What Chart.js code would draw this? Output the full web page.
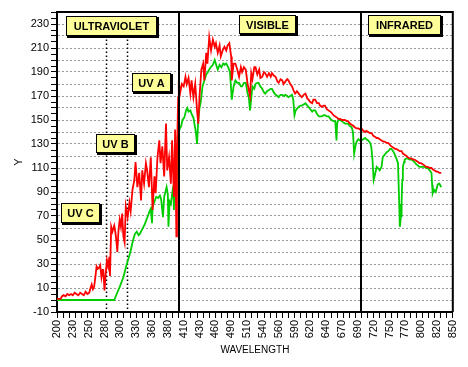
<!DOCTYPE html>
<html>
<head>
<meta charset="utf-8">
<script src="https://cdn.jsdelivr.net/npm/chart.js@4/dist/chart.umd.min.js"></script>
<style>
  html, body { margin: 0; padding: 0; background: #fff; }
  #wrap { width: 468px; height: 367px; }
</style>
</head>
<body>
<div id="wrap"><canvas id="c" width="468" height="367"></canvas></div>
<script>
// ---- data ----
const redNm = [200,203,206,208,211,214,217,220,223,226,229,232,235,238,241,244,247,250,253,255,257,259,261,263,265,267,269,271,273,275,276,278,280,282,284,286,287,289,291,294,296,298,299,301,303,305,307,309,311,313,316,319,321,324,327,329,332,335,338,340,343,346,348,351,354,357,360,362,365,368,370,373,376,379,381,384,387,389,392,394,396,397,399,400,402,405,408,411,413,416,419,421,424,427,430,432,434,437,440,442,445,447,450,453,456,459,461,464,467,469,472,475,478,480,483,486,487,490,493,496,499,502,504,507,510,513,515,517,519,521,524,526,529,532,534,537,540,542,545,548,551,553,556,559,562,564,567,570,572,575,578,580,583,586,589,591,594,597,600,602,605,608,611,613,616,619,621,624,627,630,632,635,638,640,643,646,649,651,654,657,660,662,665,668,670,673,676,678,681,684,687,689,692,695,698,700,703,706,708,711,714,717,719,722,725,727,730,733,736,738,741,744,747,749,752,755,757,760,763,766,768,771,774,776,779,782,785,787,790,793,795,798,801,804,806,809,812,815,817,820,823,825,828,831];
const redVal = [1,1,1,3,4,3,5,4,5,4,6,5,4,6,5,4,7,5,6,10,13,9,11,19,28,26,27,29,19,25,25,8,22,33,28,36,20,61,57,62,56,47,40,58,67,61,72,53,48,78,69,81,74,92,100,115,94,106,83,108,97,114,108,94,119,75,103,89,119,133,114,128,103,147,108,119,97,133,86,142,53,120,169,183,172,180,178,186,180,185,172,183,169,180,158,147,169,192,197,183,206,197,219,208,217,211,214,206,212,203,208,211,208,212,214,203,183,197,197,192,186,194,190,194,192,180,175,170,189,184,194,194,188,192,185,186,190,189,186,189,186,189,187,186,182,181,184,183,180,182,184,183,180,178,174,172,174,172,170,169,171,172,168,167,165,164,167,167,164,164,162,161,162,162,159,158,157,156,154,153,152,151,151,150,150,150,149,149,147,146,145,144,143,143,142,143,141,140,141,140,139,139,137,136,135,135,134,133,132,132,131,131,129,128,127,126,126,125,124,124,122,121,120,119,118,118,117,117,116,115,114,114,113,112,111,111,110,110,109,108,107,107,106,106];

const greenNm = [200,294,298,303,309,314,320,325,328,331,334,336,339,341,344,347,350,352,354,356,357,360,363,366,369,371,374,376,378,380,382,383,385,387,389,391,392,393,395,396,398,401,404,406,409,412,414,416,419,421,424,426,428,430,432,434,436,439,442,445,448,451,454,456,459,462,464,467,470,473,475,478,481,484,486,487,490,493,496,499,502,504,507,510,513,515,517,519,521,524,526,529,531,534,537,540,542,545,548,551,553,556,559,562,564,567,570,573,575,578,580,583,586,588,590,592,595,597,600,602,605,608,611,613,616,619,621,624,627,630,632,635,638,640,643,646,649,651,654,657,659,660,662,665,668,670,673,676,678,681,684,686,688,690,692,695,697,700,703,706,708,711,714,716,718,720,722,725,727,730,733,735,738,741,744,747,749,752,755,758,760,762,763,765,766,767,768,770,771,774,776,779,782,785,787,790,793,795,798,801,804,806,809,812,815,816,817,819,822,824,825,827,828,830,831];
const greenVal = [0,0,5,11,19,29,39,50,55,57,54,55,58,60,63,67,71,74,76,64,78,82,86,85,87,84,69,86,90,94,88,61,82,80,88,95,75,100,92,85,136,142,145,150,152,158,160,157,158,155,152,146,140,130,150,160,165,178,183,188,190,193,195,196,200,195,192,196,194,197,196,197,194,190,175,167,178,183,181,181,178,178,181,181,172,169,158,168,178,176,180,181,181,178,176,173,172,174,175,176,176,173,171,170,169,171,171,170,171,170,169,170,171,167,154,158,160,161,162,162,163,164,162,161,159,157,158,158,155,153,153,153,154,154,153,153,151,150,149,149,133,147,150,150,149,148,147,147,147,145,144,140,122,128,132,134,133,133,134,135,134,133,131,128,118,100,104,111,110,108,111,119,121,123,124,126,126,124,121,117,114,80,61,70,83,100,111,115,117,118,118,117,117,116,115,113,112,111,111,111,111,110,110,108,106,96,89,92,90,94,96,97,97,95,94];

const xTickLabels = ['200','230','250','280','300','330','360','380','410','430','460','490','510','540','560','590','620','640','670','690','720','750','770','800','820','850'];
const yTickLabels = [-10,10,30,50,70,90,110,130,150,170,190,210,230];
const regionBounds = [400, 700];
const uvBounds = [280, 315];
const regionNames = ['ULTRAVIOLET','VISIBLE','INFRARED','UV A','UV B','UV C'];

// ---- layout / style (not data) ----
const X_MIN = 200, X_MAX = 850, Y_MIN = -10, Y_MAX = 240;
const X_LABEL_STEP = (X_MAX - X_MIN) / (xTickLabels.length - 1);
const labelBoxes = [
  { cx: 289,   cy: 228.3, w: 91, h: 20 },
  { cx: 545.4, cy: 229.6, w: 57, h: 19 },
  { cx: 770.8, cy: 229.2, w: 73, h: 20 },
  { cx: 356,   cy: 181.3, w: 39, h: 19 },
  { cx: 295.5, cy: 130.4, w: 39, h: 19 },
  { cx: 238.4, cy: 72.5,  w: 39, h: 20 }
];
const FONT = "'Liberation Sans', Arial, sans-serif";

const toPts = (xs, ys) => xs.map((x, i) => ({ x: x, y: ys[i] }));

const overlay = {
  id: 'overlay',
  beforeDatasetsDraw(chart) {
    const { ctx, scales: { x, y } } = chart;
    ctx.save();
    ctx.strokeStyle = '#000';
    ctx.lineWidth = 1.5;
    ctx.setLineDash([1.5, 2.5]);
    uvBounds.forEach(v => {
      const px = Math.round(x.getPixelForValue(v)) + 0.5;
      ctx.beginPath();
      ctx.moveTo(px, y.getPixelForValue(217));
      ctx.lineTo(px, y.getPixelForValue(Y_MIN));
      ctx.stroke();
    });
    ctx.restore();
  },
  afterDatasetsDraw(chart) {
    const { ctx, chartArea: a, scales: { x, y } } = chart;
    ctx.save();
    ctx.strokeStyle = '#000';
    ctx.lineWidth = 2;
    regionBounds.forEach(v => {
      const px = Math.round(x.getPixelForValue(v));
      ctx.beginPath();
      ctx.moveTo(px, a.top);
      ctx.lineTo(px, a.bottom);
      ctx.stroke();
    });
    // frame top/right
    ctx.beginPath();
    ctx.moveTo(a.left, a.top);
    ctx.lineTo(a.right, a.top);
    ctx.lineTo(a.right, a.bottom);
    ctx.stroke();
    // labels
    ctx.font = "bold 11px " + FONT;
    ctx.textAlign = 'center';
    ctx.textBaseline = 'middle';
    labelBoxes.forEach((b, i) => {
      const cx = x.getPixelForValue(b.cx), cy = y.getPixelForValue(b.cy);
      const l = Math.round(cx - b.w / 2), t = Math.round(cy - b.h / 2);
      ctx.fillStyle = '#000';
      ctx.fillRect(l + 1, t + 1, b.w + 1, b.h + 1);
      ctx.fillStyle = '#ffff99';
      ctx.fillRect(l, t, b.w, b.h);
      ctx.lineWidth = 1;
      ctx.strokeStyle = '#000';
      ctx.strokeRect(l + 0.5, t + 0.5, b.w - 1, b.h - 1);
      ctx.fillStyle = '#000';
      ctx.fillText(regionNames[i], l + b.w / 2, t + b.h / 2 + 1);
    });
    ctx.restore();
  }
};

new Chart(document.getElementById('c'), {
  type: 'line',
  data: {
    datasets: [
      { data: toPts(redNm, redVal), borderColor: '#ff0000', borderWidth: 1.8, pointRadius: 0, tension: 0, fill: false },
      { data: toPts(greenNm, greenVal), borderColor: '#00cc00', borderWidth: 1.8, pointRadius: 0, tension: 0, fill: false }
    ]
  },
  options: {
    responsive: false,
    devicePixelRatio: 1,
    animation: false,
    events: [],
    layout: { padding: { left: 0, top: 12, right: 13, bottom: 0 } },
    plugins: { legend: { display: false }, tooltip: { enabled: false } },
    scales: {
      x: {
        type: 'linear', position: 'bottom', min: X_MIN, max: X_MAX,
        afterBuildTicks: s => {
          const t = [];
          for (let v = X_MIN; v <= X_MAX; v += 10) t.push({ value: v });
          s.ticks = t;
        },
        ticks: { display: false },
        grid: { drawOnChartArea: false, drawTicks: true, tickLength: 6, tickColor: '#000', tickWidth: 1 },
        border: { display: true, color: '#000', width: 2 },
        afterFit: s => { s.height = 6; }
      },
      xl: {
        type: 'linear', axis: 'x', position: 'bottom', min: X_MIN, max: X_MAX,
        afterBuildTicks: s => { s.ticks = xTickLabels.map((_, i) => ({ value: X_MIN + i * X_LABEL_STEP })); },
        ticks: {
          autoSkip: false, maxRotation: 90, minRotation: 90, padding: 2,
          color: '#000', font: { family: FONT, size: 11 },
          callback: (v, i) => xTickLabels[i]
        },
        grid: { display: false, drawTicks: false },
        border: { display: false },
        title: { display: true, text: 'WAVELENGTH', color: '#000', font: { family: FONT, size: 10 }, padding: { top: 0, bottom: 11 } },
        afterFit: s => { s.height = 49; }
      },
      y: {
        type: 'linear', min: Y_MIN, max: Y_MAX,
        afterBuildTicks: s => {
          const t = [];
          for (let v = Y_MIN; v <= Y_MAX; v += 5) t.push({ value: v });
          s.ticks = t;
        },
        ticks: {
          autoSkip: false, padding: 2, color: '#000', font: { family: FONT, size: 11 },
          callback: v => yTickLabels.includes(v) ? String(v) : ''
        },
        grid: {
          color: c => (c.tick && c.tick.value % 10 === 0 && c.tick.value > Y_MIN && c.tick.value < Y_MAX) ? '#999999' : 'rgba(0,0,0,0)',
          lineWidth: 1, drawTicks: true, tickLength: 6, tickColor: '#000', tickWidth: 1
        },
        border: { display: true, color: '#000', width: 2, dash: [2, 2] },
        title: { display: true, text: 'Y', color: '#000', font: { family: FONT, size: 11 }, padding: { top: 12, bottom: 0 } },
        afterFit: s => { s.width = 57; }
      }
    }
  },
  plugins: [overlay]
});
</script>
</body>
</html>
